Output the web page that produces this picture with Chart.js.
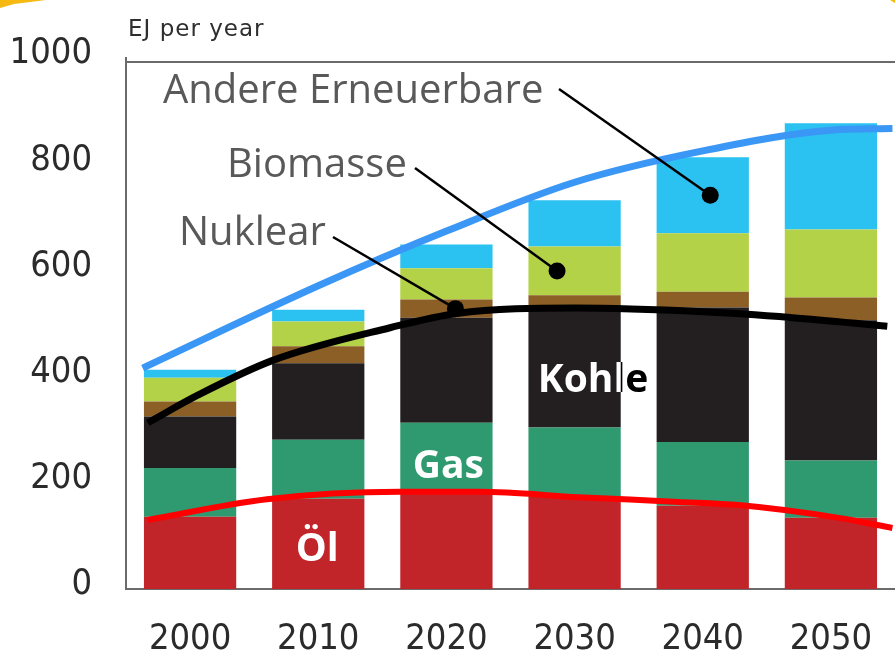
<!DOCTYPE html>
<html>
<head>
<meta charset="utf-8">
<script src="https://cdn.jsdelivr.net/npm/chart.js@4.4.1/dist/chart.umd.min.js"></script>
<style>
  html, body { margin: 0; padding: 0; background: #fff; }
  #energie { display: block; }
</style>
</head>
<body>
<canvas id="energie" width="895" height="654"></canvas>
<script>
// Primärenergie in EJ pro Jahr
var jahre = ['2000', '2010', '2020', '2030', '2040', '2050'];
var oel = [136, 170, 179, 175, 157, 134];
var gas = [92, 111, 134, 129, 120, 108];
var kohle = [97, 144, 198, 220, 253, 264];
var nuklear = [28, 32, 34, 29, 30, 43];
var biomasse = [45, 47, 59, 92, 110, 128];
var andere = [15, 22, 45, 87, 143, 200];

// Kurven (Jahr, EJ)
var blauJahr = [1996.3, 2010, 2020, 2030, 2040, 2050, 2054.8];
var blauWert = [416, 571, 674, 766, 825, 864, 867];
var schwarzJahr = [1996.7, 2000.6, 2006.5, 2015.6, 2020.8, 2030, 2040, 2047, 2054.4];
var schwarzWert = [313, 365, 431, 492, 519, 529, 522, 511, 495];
var rotJahr = [1996.7, 2006, 2016.4, 2022.6, 2030.3, 2038.1, 2042.8, 2050.6, 2054.8];
var rotWert = [130, 169, 183, 183, 173, 164, 158, 134, 115];

var yTicks = [0, 200, 400, 600, 800, 1000];

function punkte(xs, ys) {
    return xs.map(function (x, i) { return { x: x, y: ys[i] }; });
}

function balken(label, data, farbe) {
    return {
        type: 'bar',
        label: label,
        data: data,
        backgroundColor: farbe,
        borderWidth: 0,
        barPercentage: 0.72,
        categoryPercentage: 1,
        grouped: false,
        order: 1
    };
}

function kurve(label, xs, ys, farbe, breite) {
    return {
        type: 'line',
        label: label,
        data: punkte(xs, ys),
        xAxisID: 'xl',
        yAxisID: 'yl',
        borderColor: farbe,
        borderWidth: breite,
        pointRadius: 0,
        fill: false,
        cubicInterpolationMode: 'monotone',
        borderCapStyle: 'butt',
        order: 0
    };
}

var tickFont = { family: "'Liberation Sans Narrow', 'DejaVu Sans Condensed', sans-serif", size: 36 };

var beschriftung = {
    id: 'beschriftung',
    beforeDraw: function (chart) {
        var ctx = chart.ctx;
        ctx.save();
        ctx.fillStyle = '#ffffff';
        ctx.fillRect(0, 0, chart.width, chart.height);
        // gelber Rahmen in den Ecken
        ctx.beginPath();
        ctx.rect(0, 0, 50, 12);
        ctx.rect(chart.width - 6, 0, 6, 4);
        ctx.clip();
        ctx.fillStyle = '#f6b912';
        ctx.beginPath();
        ctx.moveTo(0, 0);
        ctx.lineTo(46, 0);
        ctx.lineTo(30, 2);
        ctx.lineTo(14, 4);
        ctx.lineTo(0, 8);
        ctx.closePath();
        ctx.fill();
        ctx.beginPath();
        ctx.moveTo(chart.width - 5, 0);
        ctx.lineTo(chart.width, 0);
        ctx.lineTo(chart.width, 3);
        ctx.closePath();
        ctx.fill();
        ctx.restore();
    },
    beforeDatasetsDraw: function (chart) {
        var ctx = chart.ctx;
        var a = chart.chartArea;
        ctx.save();
        ctx.strokeStyle = '#6b6b6b';
        ctx.lineWidth = 2;
        ctx.beginPath();
        ctx.moveTo(a.left - 1, a.top + 4);
        ctx.lineTo(chart.width, a.top + 4);
        ctx.stroke();
        ctx.fillStyle = '#2e2e2e';
        ctx.font = "23px 'DejaVu Sans', sans-serif";
        ctx.letterSpacing = '1px';
        ctx.textBaseline = 'alphabetic';
        ctx.fillText('EJ per year', 128, 36);
        ctx.restore();
    },
    afterDatasetsDraw: function (chart) {
        var ctx = chart.ctx;
        var y = chart.scales.y;
        function bar(ds, i) { return chart.getDatasetMeta(ds).data[i]; }
        function mitte(b) { return (b.y + b.base) / 2; }

        ctx.save();
        // graue Beschriftungen mit Zeigern
        ctx.fillStyle = '#595959';
        ctx.font = "40px 'Open Sans', sans-serif";
        ctx.textBaseline = 'alphabetic';
        ctx.textAlign = 'left';
        var notes = [
            { text: 'Andere Erneuerbare', tx: 163, ty: 103, lx: 559, ly: 89, ds: 5, i: 4, dx: 7.5 },
            { text: 'Biomasse', tx: 227, ty: 177, lx: 415, ly: 168, ds: 4, i: 3, dx: -17.5 },
            { text: 'Nuklear', tx: 179, ty: 245, lx: 333, ly: 237, ds: 3, i: 2, dx: 9 }
        ];
        notes.forEach(function (n) {
            ctx.fillText(n.text, n.tx, n.ty);
        });
        ctx.strokeStyle = '#000000';
        ctx.lineWidth = 2.5;
        notes.forEach(function (n) {
            var b = bar(n.ds, n.i);
            var px = b.x + n.dx, py = mitte(b);
            ctx.beginPath();
            ctx.moveTo(n.lx, n.ly);
            ctx.lineTo(px, py);
            ctx.stroke();
            ctx.beginPath();
            ctx.arc(px, py, 8.5, 0, Math.PI * 2);
            ctx.fillStyle = '#000000';
            ctx.fill();
        });

        // weisse Beschriftungen in den Balken
        ctx.font = "bold 39px 'Open Sans', sans-serif";
        ctx.textAlign = 'center';
        ctx.fillStyle = '#ffffff';
        ctx.fillText('Öl', bar(0, 1).x - 1, y.getPixelForValue(53));
        ctx.fillText('Gas', bar(1, 2).x + 2, y.getPixelForValue(209));

        var kb = bar(2, 3);
        var kx = kb.x + 18.5, ky = y.getPixelForValue(371);
        ctx.fillStyle = '#000000';
        ctx.fillText('Kohle', kx, ky);
        ctx.save();
        ctx.beginPath();
        ctx.rect(kb.x - kb.width / 2, Math.min(kb.y, kb.base), kb.width, Math.abs(kb.base - kb.y));
        ctx.clip();
        ctx.fillStyle = '#ffffff';
        ctx.fillText('Kohle', kx, ky);
        ctx.restore();
        ctx.restore();
    }
};

var ctx = document.getElementById('energie').getContext('2d');
var chart = new Chart(ctx, {
    data: {
        labels: jahre,
        datasets: [
            balken('Öl', oel, '#c1252a'),
            balken('Gas', gas, '#2f9a6f'),
            balken('Kohle', kohle, '#231f20'),
            balken('Nuklear', nuklear, '#8b5f26'),
            balken('Biomasse', biomasse, '#b4d247'),
            balken('Andere Erneuerbare', andere, '#2bc2f1'),
            kurve('blau', blauJahr, blauWert, '#3a97f5', 7),
            kurve('schwarz', schwarzJahr, schwarzWert, '#000000', 7),
            kurve('rot', rotJahr, rotWert, '#ff0000', 6)
        ]
    },
    options: {
        responsive: false,
        animation: false,
        layout: {
            padding: { left: 0, right: -3, top: 58, bottom: 0 }
        },
        plugins: {
            legend: { display: false },
            tooltip: { enabled: false }
        },
        scales: {
            x: {
                type: 'category',
                stacked: true,
                grid: { display: false, drawTicks: false },
                border: { display: true, color: '#6b6b6b', width: 2 },
                ticks: { font: tickFont, color: '#2b2b2b', padding: 29, maxRotation: 0, autoSkip: false },
                afterFit: function (s) {
                    s.height = 65;
                    s.paddingLeft = 0;
                    s.paddingRight = 0;
                }
            },
            xl: {
                type: 'linear',
                display: false,
                min: 1995,
                max: 2055
            },
            y: {
                stacked: true,
                min: 0,
                max: 1000,
                afterBuildTicks: function (s) {
                    s.ticks = yTicks.map(function (v) { return { value: v }; });
                },
                grid: { display: false, drawTicks: false },
                border: { display: true, color: '#6b6b6b', width: 2 },
                ticks: {
                    font: tickFont, color: '#2b2b2b', padding: 34, labelOffset: -4,
                    callback: function (v) { return String(v); }
                },
                afterFit: function (s) { s.width = 126; }
            },
            yl: {
                type: 'linear',
                display: false,
                min: 0,
                max: 1000
            }
        }
    },
    plugins: [beschriftung]
});
</script>
</body>
</html>
